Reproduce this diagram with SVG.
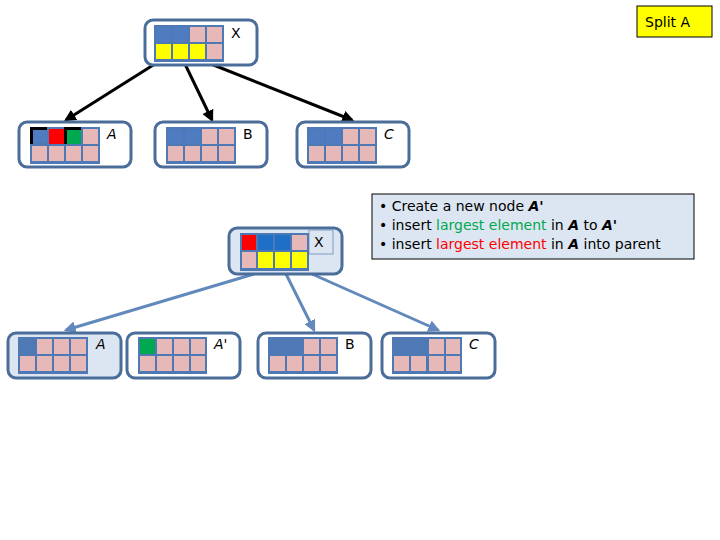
<svg xmlns="http://www.w3.org/2000/svg" width="720" height="540" viewBox="0 0 720 540">
<defs>
<style>
.nd{fill:#fff;stroke:#4a6d9a;stroke-width:3}
.nl{fill:#dce6f2;stroke:#4a6d9a;stroke-width:3}
.g{fill:#4f79b5}
.p{fill:#e6b9b8}
.b{fill:#4f7cc0}
.d{fill:#1f6fc6}
.y{fill:#ffff00}
.r{fill:#ff0000}
.gr{fill:#00a84f}
text{font-family:"DejaVu Sans",sans-serif;font-size:14px;fill:#000}
.e1{stroke:#000;stroke-width:3;fill:none}
.e2{stroke:#6289bb;stroke-width:3;fill:none}
</style>
<marker id="ak" viewBox="0 0 10 10" refX="8" refY="5" markerWidth="4" markerHeight="4" orient="auto"><path d="M0,0L10,5L0,10z" fill="#000"/></marker>
<marker id="ab" viewBox="0 0 10 10" refX="8" refY="5" markerWidth="4" markerHeight="4" orient="auto"><path d="M0,0L10,5L0,10z" fill="#6289bb"/></marker>
</defs>
<g id="connectors">
<line class="e1" x1="158" y1="62" x2="66" y2="120" marker-end="url(#ak)"/>
<line class="e1" x1="184" y1="62" x2="212" y2="120" marker-end="url(#ak)"/>
<line class="e1" x1="206" y1="62" x2="352" y2="120" marker-end="url(#ak)"/>
<line class="e2" x1="254" y1="274" x2="66" y2="330" marker-end="url(#ab)"/>
<line class="e2" x1="286" y1="274" x2="314" y2="330" marker-end="url(#ab)"/>
<line class="e2" x1="312" y1="274" x2="438" y2="330" marker-end="url(#ab)"/>
</g>
<g id="nX">
<rect class="nd" x="145" y="20" width="112" height="45" rx="8"/>
<rect class="g" x="154" y="25" width="70" height="37"/>
<rect class="b" x="156" y="27" width="15" height="15"/><rect class="b" x="173" y="27" width="15" height="15"/><rect class="p" x="190" y="27" width="15" height="15"/><rect class="p" x="207" y="27" width="15" height="15"/>
<rect class="y" x="156" y="44" width="15" height="15"/><rect class="y" x="173" y="44" width="15" height="15"/><rect class="y" x="190" y="44" width="15" height="15"/><rect class="p" x="207" y="44" width="15" height="15"/>
<text x="231" y="38">X</text>
</g>
<g id="nA">
<rect class="nd" x="19" y="122" width="112" height="45" rx="8"/>
<rect class="g" x="30" y="127" width="70" height="37"/>
<rect x="30" y="127" width="3" height="17" fill="#000"/><rect x="30" y="127" width="17" height="3" fill="#000"/><rect x="64" y="127" width="17" height="3" fill="#000"/><rect x="64" y="127" width="3" height="17" fill="#000"/>
<rect class="b" x="33" y="130" width="14" height="12"/><rect class="r" x="49" y="129" width="15" height="15"/><rect class="gr" x="67" y="130" width="14" height="14"/><rect class="p" x="83" y="129" width="15" height="15"/>
<rect class="p" x="32" y="146" width="15" height="15"/><rect class="p" x="49" y="146" width="15" height="15"/><rect class="p" x="66" y="146" width="15" height="15"/><rect class="p" x="83" y="146" width="15" height="15"/>
<text x="107" y="139" font-style="italic">A</text>
</g>
<g id="nB">
<rect class="nd" x="155" y="122" width="112" height="45" rx="8"/>
<rect class="g" x="166" y="127" width="70" height="37"/>
<rect class="b" x="168" y="129" width="15" height="15"/><rect class="b" x="185" y="129" width="15" height="15"/><rect class="p" x="202" y="129" width="15" height="15"/><rect class="p" x="219" y="129" width="15" height="15"/>
<rect class="p" x="168" y="146" width="15" height="15"/><rect class="p" x="185" y="146" width="15" height="15"/><rect class="p" x="202" y="146" width="15" height="15"/><rect class="p" x="219" y="146" width="15" height="15"/>
<text x="243" y="139">B</text>
</g>
<g id="nC">
<rect class="nd" x="297" y="122" width="112" height="45" rx="8"/>
<rect class="g" x="307" y="127" width="70" height="37"/>
<rect class="b" x="309" y="129" width="15" height="15"/><rect class="b" x="326" y="129" width="15" height="15"/><rect class="p" x="343" y="129" width="15" height="15"/><rect class="p" x="360" y="129" width="15" height="15"/>
<rect class="p" x="309" y="146" width="15" height="15"/><rect class="p" x="326" y="146" width="15" height="15"/><rect class="p" x="343" y="146" width="15" height="15"/><rect class="p" x="360" y="146" width="15" height="15"/>
<text x="384" y="139" font-style="italic">C</text>
</g>
<g id="nX2">
<rect class="nl" x="229" y="228" width="113" height="46" rx="8"/>
<rect x="309" y="230" width="24" height="24" fill="#dce6f2" stroke="#7f9cc4" stroke-width="1"/>
<rect class="g" x="240" y="233" width="69" height="38"/>
<rect class="r" x="242" y="235" width="14" height="15"/><rect class="d" x="258" y="235" width="15" height="15"/><rect class="d" x="275" y="235" width="15" height="15"/><rect class="p" x="292" y="235" width="15" height="15"/>
<rect class="p" x="242" y="252" width="14" height="16"/><rect class="y" x="258" y="252" width="15" height="16"/><rect class="y" x="275" y="252" width="15" height="16"/><rect class="y" x="292" y="252" width="15" height="16"/>
<text x="314" y="247">X</text>
</g>
<g id="nA2">
<rect class="nl" x="8" y="333" width="113" height="45" rx="8"/>
<rect class="g" x="18" y="337" width="70" height="37"/>
<rect class="p" x="37" y="339" width="15" height="15"/><rect class="p" x="54" y="339" width="15" height="15"/><rect class="p" x="71" y="339" width="15" height="15"/>
<rect class="p" x="20" y="356" width="15" height="15"/><rect class="p" x="37" y="356" width="15" height="15"/><rect class="p" x="54" y="356" width="15" height="15"/><rect class="p" x="71" y="356" width="15" height="15"/>
<text x="96" y="349" font-style="italic">A</text>
</g>
<g id="nA3">
<rect class="nd" x="127" y="333" width="113" height="45" rx="8"/>
<rect class="g" x="138" y="337" width="69" height="37"/>
<rect class="gr" x="140" y="339" width="15" height="15"/><rect class="p" x="157" y="339" width="15" height="15"/><rect class="p" x="174" y="339" width="15" height="15"/><rect class="p" x="191" y="339" width="14" height="15"/>
<rect class="p" x="140" y="356" width="15" height="15"/><rect class="p" x="157" y="356" width="15" height="15"/><rect class="p" x="174" y="356" width="15" height="15"/><rect class="p" x="191" y="356" width="14" height="15"/>
<text x="214" y="349" font-style="italic">A'</text>
</g>
<g id="nB2">
<rect class="nd" x="258" y="333" width="113" height="45" rx="8"/>
<rect class="g" x="268" y="337" width="70" height="37"/>
<rect class="p" x="304" y="339" width="15" height="15"/><rect class="p" x="321" y="339" width="15" height="15"/>
<rect class="p" x="270" y="356" width="15" height="15"/><rect class="p" x="287" y="356" width="15" height="15"/><rect class="p" x="304" y="356" width="15" height="15"/><rect class="p" x="321" y="356" width="15" height="15"/>
<text x="345" y="349">B</text>
</g>
<g id="nC2">
<rect class="nd" x="382" y="333" width="113" height="45" rx="8"/>
<rect class="g" x="392" y="337" width="70" height="37"/>
<rect class="p" x="429" y="339" width="15" height="15"/><rect class="p" x="446" y="339" width="14" height="15"/>
<rect class="p" x="394" y="356" width="15" height="15"/><rect class="p" x="411" y="356" width="15" height="15"/><rect class="p" x="429" y="356" width="15" height="15"/><rect class="p" x="446" y="356" width="14" height="15"/>
<text x="469" y="349" font-style="italic">C</text>
</g>
<g id="note">
<rect x="372" y="194" width="322" height="65" fill="#dce6f2" stroke="#000" stroke-width="1"/>
<text x="379" y="211">• Create a new node <tspan font-weight="bold" font-style="italic">A'</tspan></text>
<text x="379" y="230">• insert <tspan fill="#00a84f">largest element</tspan> in <tspan font-weight="bold" font-style="italic">A</tspan> to <tspan font-weight="bold" font-style="italic">A'</tspan></text>
<text x="379" y="249">• insert <tspan fill="#ff0000">largest element</tspan> in <tspan font-weight="bold" font-style="italic">A</tspan> into parent</text>
</g>
<g id="title">
<rect x="637" y="6" width="75" height="31" fill="#ffff00" stroke="#000" stroke-width="1"/>
<text x="645" y="27" font-size="16">Split A</text>
</g>
</svg>
